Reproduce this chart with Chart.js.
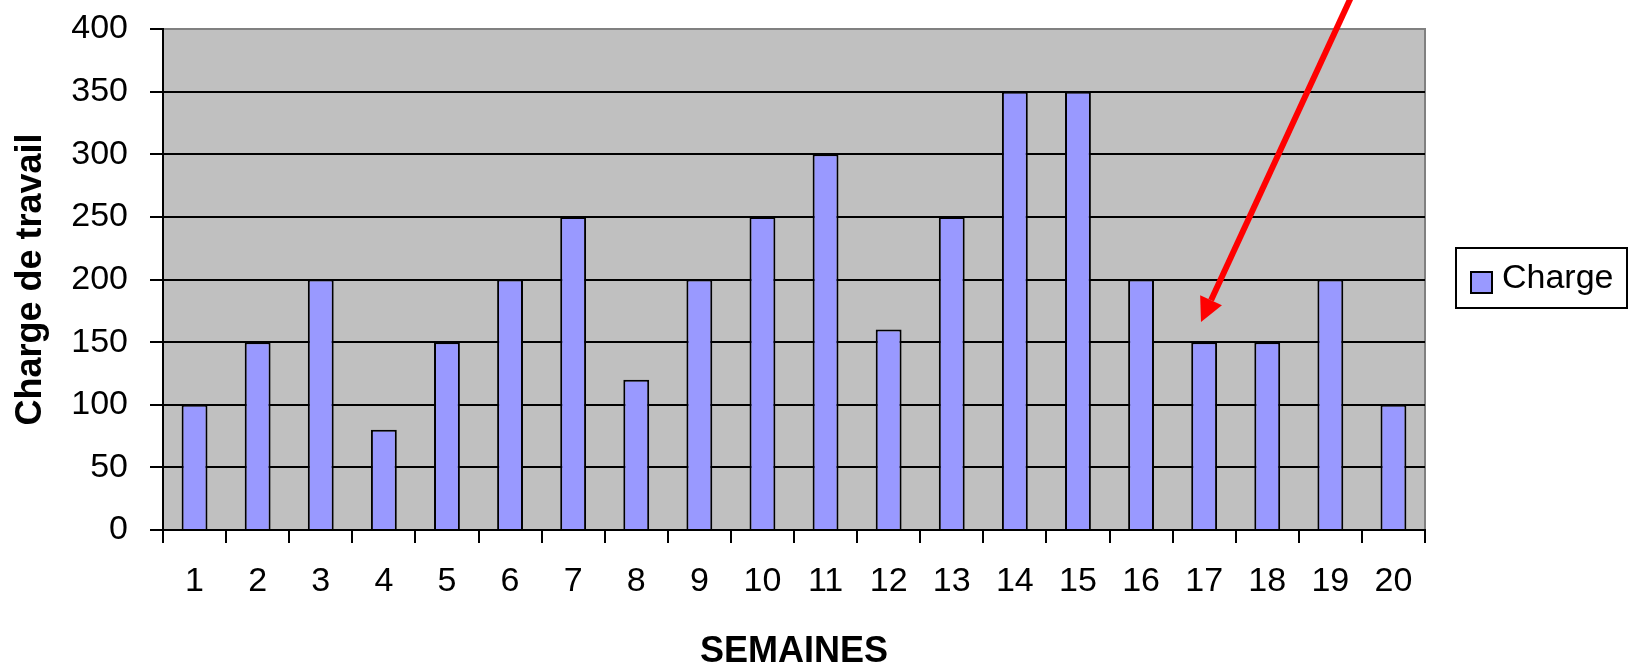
<!DOCTYPE html>
<html lang="fr">
<head>
<meta charset="utf-8">
<title>Charge de travail</title>
<script src="https://cdn.jsdelivr.net/npm/chart.js@4.4.1/dist/chart.umd.min.js"></script>
<style>
    html, body { margin: 0; padding: 0; background: #fff; }
    canvas { display: block; }
</style>
</head>
<body>
<canvas id="charge" width="1630" height="663"></canvas>
<script>
// données du graphique
const semaines = ['1', '2', '3', '4', '5', '6', '7', '8', '9', '10',
    '11', '12', '13', '14', '15', '16', '17', '18', '19', '20'];
const charge = [100, 150, 200, 80, 150, 200, 250, 120, 200, 250,
    300, 160, 250, 350, 350, 200, 150, 150, 200, 100];
const graduations = [0, 50, 100, 150, 200, 250, 300, 350, 400];
const serie = 'Charge';

// flèche rouge, en unités du graphique (index de semaine, charge)
const flecheDebut = { x: 18.37, y: 430 };
const flecheFin = { x: 15.95, y: 166 };

const Graphique = (() => {
    let _configMap = {
        police: "'Liberation Sans', Arial, sans-serif",
        fond: '#c0c0c0',
        bordure: '#808080',
        barre: '#9999ff'
    };

    // fond gris de la zone de tracé + bordure grise haut/droite
    const _fondPlugin = {
        id: 'fond',
        beforeDraw(chart) {
            const { ctx, chartArea: a } = chart;
            ctx.save();
            ctx.fillStyle = _configMap.fond;
            ctx.fillRect(a.left, a.top, a.width, a.height);
            ctx.strokeStyle = _configMap.bordure;
            ctx.lineWidth = 2;
            ctx.beginPath();
            ctx.moveTo(a.left, a.top);
            ctx.lineTo(a.right, a.top);
            ctx.lineTo(a.right, a.bottom);
            ctx.stroke();
            ctx.restore();
        }
    };

    // légende encadrée à droite
    const _legendePlugin = {
        id: 'legende',
        afterDraw(chart) {
            const ds = chart.data.datasets[0];
            const ctx = chart.ctx;
            ctx.save();
            ctx.fillStyle = '#fff';
            ctx.strokeStyle = '#000';
            ctx.lineWidth = 2;
            ctx.fillRect(1456, 248, 171, 60);
            ctx.strokeRect(1456, 248, 171, 60);
            ctx.fillStyle = ds.backgroundColor;
            ctx.fillRect(1471, 272, 21, 21);
            ctx.strokeRect(1471, 272, 21, 21);
            ctx.fillStyle = '#000';
            ctx.font = `34px ${_configMap.police}`;
            ctx.textBaseline = 'middle';
            ctx.fillText(ds.label, 1502, 279);
            ctx.restore();
        }
    };

    // flèche vers la semaine 17
    const _flechePlugin = {
        id: 'fleche',
        afterDraw(chart) {
            const { ctx, scales: { x, y } } = chart;
            const x0 = x.getPixelForValue(flecheDebut.x);
            const y0 = y.getPixelForValue(flecheDebut.y);
            const x1 = x.getPixelForValue(flecheFin.x);
            const y1 = y.getPixelForValue(flecheFin.y);
            const angle = Math.atan2(y1 - y0, x1 - x0);
            const tete = 24;
            const demi = 12;
            const bx = x1 - tete * Math.cos(angle);
            const by = y1 - tete * Math.sin(angle);

            ctx.save();
            ctx.strokeStyle = '#ff0000';
            ctx.fillStyle = '#ff0000';
            ctx.lineWidth = 6;
            ctx.beginPath();
            ctx.moveTo(x0, y0);
            ctx.lineTo(bx, by);
            ctx.stroke();
            ctx.beginPath();
            ctx.moveTo(x1, y1);
            ctx.lineTo(bx + demi * Math.sin(angle), by - demi * Math.cos(angle));
            ctx.lineTo(bx - demi * Math.sin(angle), by + demi * Math.cos(angle));
            ctx.closePath();
            ctx.fill();
            ctx.restore();
        }
    };

    const _init = function (canvas) {
        return new Chart(canvas, {
            type: 'bar',
            data: {
                labels: semaines,
                datasets: [{
                    label: serie,
                    data: charge,
                    backgroundColor: _configMap.barre,
                    borderColor: '#000',
                    borderWidth: 2,
                    barPercentage: 0.41,
                    categoryPercentage: 1
                }]
            },
            options: {
                responsive: false,
                animation: false,
                events: [],
                layout: { padding: { top: 29, right: 205, left: 0, bottom: 0 } },
                plugins: {
                    legend: { display: false },
                    tooltip: { enabled: false }
                },
                scales: {
                    x: {
                        offset: true,
                        grid: {
                            offset: true,
                            drawOnChartArea: false,
                            drawTicks: true,
                            tickLength: 13,
                            color: '#000',
                            lineWidth: 2
                        },
                        border: { display: true, color: '#000', width: 2 },
                        ticks: {
                            color: '#000',
                            padding: 18,
                            maxRotation: 0,
                            autoSkip: false,
                            font: { family: _configMap.police, size: 34 }
                        },
                        title: {
                            display: true,
                            text: 'SEMAINES',
                            color: '#000',
                            font: { family: _configMap.police, size: 36, weight: 'bold', lineHeight: 1 },
                            padding: { top: 0, bottom: -7 }
                        },
                        afterFit(scale) {
                            scale.height = 133;
                            scale.paddingLeft = 0;
                            scale.paddingRight = 0;
                        }
                    },
                    y: {
                        min: graduations[0],
                        max: graduations[graduations.length - 1],
                        grid: {
                            color: (c) => c.tick && c.tick.value === graduations[graduations.length - 1] ? _configMap.bordure : '#000',
                            tickColor: '#000',
                            lineWidth: 2,
                            drawTicks: true,
                            tickLength: 13
                        },
                        border: { display: true, color: '#000', width: 2 },
                        ticks: {
                            stepSize: graduations[1] - graduations[0],
                            color: '#000',
                            padding: 22,
                            font: { family: _configMap.police, size: 34 }
                        },
                        title: {
                            display: true,
                            text: 'Charge de travail',
                            color: '#000',
                            font: { family: _configMap.police, size: 36, weight: 'bold' },
                            padding: { top: 9, bottom: 0 }
                        },
                        afterFit(scale) {
                            scale.width = 163;
                            scale.paddingTop = 0;
                            scale.paddingBottom = 0;
                        }
                    }
                }
            },
            plugins: [_fondPlugin, _legendePlugin, _flechePlugin]
        });
    };

    return {
        init: _init
    };
})();

Graphique.init(document.getElementById('charge'));
</script>
</body>
</html>
